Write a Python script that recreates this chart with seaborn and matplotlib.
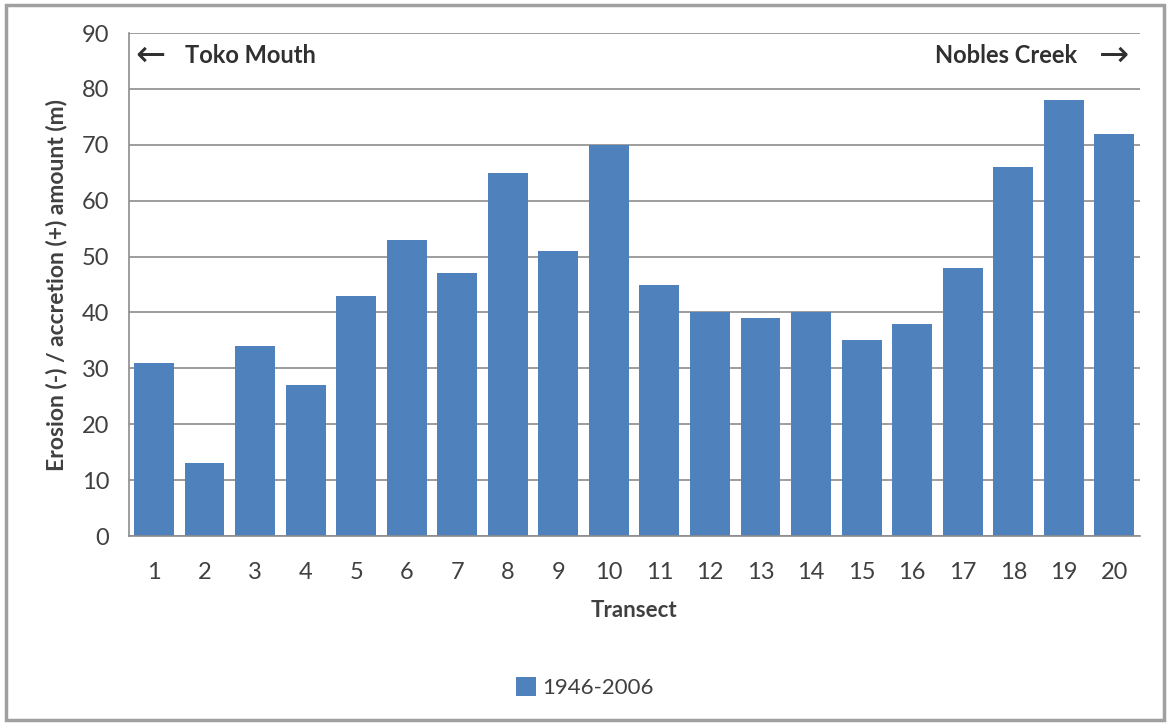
import matplotlib
matplotlib.use("Agg")
import matplotlib.pyplot as plt
from matplotlib.patches import Rectangle
import seaborn as sns
import pandas as pd

transects = [str(i) for i in range(1, 21)]
change_1946_2006 = [31, 13, 34, 27, 43, 53, 47, 65, 51, 70,
                    45, 40, 39, 40, 35, 38, 48, 66, 78, 72]
series_name = "1946-2006"
y_ticks = [0, 10, 20, 30, 40, 50, 60, 70, 80, 90]

df = pd.DataFrame({"Transect": transects, "Amount": change_1946_2006})

sns.set_theme(style="white")
plt.rcParams["font.family"] = ["Lato", "DejaVu Sans"]

bar_color = "#4F81BD"
grid_color = "#8C8C8C"
text_color = "#404040"

fig = plt.figure(figsize=(11.7, 7.26), dpi=100)
ax = fig.add_axes([0.110, 0.2617, 0.864, 0.6928])

sns.barplot(data=df, x="Transect", y="Amount", color=bar_color,
            saturation=1, width=0.79, linewidth=0, ax=ax, label=series_name)

ax.set_ylim(0, 90)
ax.set_xlim(-0.5, len(transects) - 0.5)
ax.set_yticks(y_ticks)
ax.yaxis.grid(True, color=grid_color, linewidth=1.2)
ax.set_axisbelow(True)

for side in ("top", "right"):
    ax.spines[side].set_visible(False)
for side in ("left", "bottom"):
    ax.spines[side].set_color(grid_color)
    ax.spines[side].set_linewidth(1.2)

# category ticks sit between bars, labels centred under bars
ax.set_xticks([i - 0.5 for i in range(len(transects) + 1)], minor=True)
ax.tick_params(axis="x", which="minor", length=6, width=1.2, color=grid_color, direction="out")
ax.tick_params(axis="x", which="major", length=0, labelsize=17, labelcolor=text_color, pad=19)
ax.tick_params(axis="y", which="major", length=6, width=1.2, color=grid_color, direction="out",
               labelsize=17, labelcolor=text_color, pad=8)

ax.set_xlabel("Transect", fontsize=16, fontweight="bold", color=text_color, labelpad=12)
ax.set_ylabel("Erosion (-) / accretion (+) amount (m)", fontsize=16.5, fontweight="bold",
              color=text_color, labelpad=10)

ax.text(0.006, 0.955, "\u2190", transform=ax.transAxes, fontsize=26, color="#303030",
        ha="left", va="center", family="DejaVu Sans")
ax.text(0.056, 0.955, "Toko Mouth", transform=ax.transAxes, fontsize=17,
        fontweight="bold", color="#303030", ha="left", va="center")
ax.text(0.938, 0.955, "Nobles Creek", transform=ax.transAxes, fontsize=17,
        fontweight="bold", color="#303030", ha="right", va="center")
ax.text(0.99, 0.955, "\u2192", transform=ax.transAxes, fontsize=26, color="#303030",
        ha="right", va="center", family="DejaVu Sans")

leg = ax.legend(loc="center", bbox_to_anchor=(0.5, 0.053), bbox_transform=fig.transFigure,
                frameon=False, fontsize=16, handlelength=0.9, handleheight=0.9,
                handletextpad=0.3)
for t in leg.get_texts():
    t.set_color(text_color)

fig.patches.append(Rectangle((0.005, 0.008), 0.99, 0.985, transform=fig.transFigure,
                             fill=False, edgecolor="#A0A0A0", linewidth=2.5))

fig.savefig("out.png", dpi=100)
